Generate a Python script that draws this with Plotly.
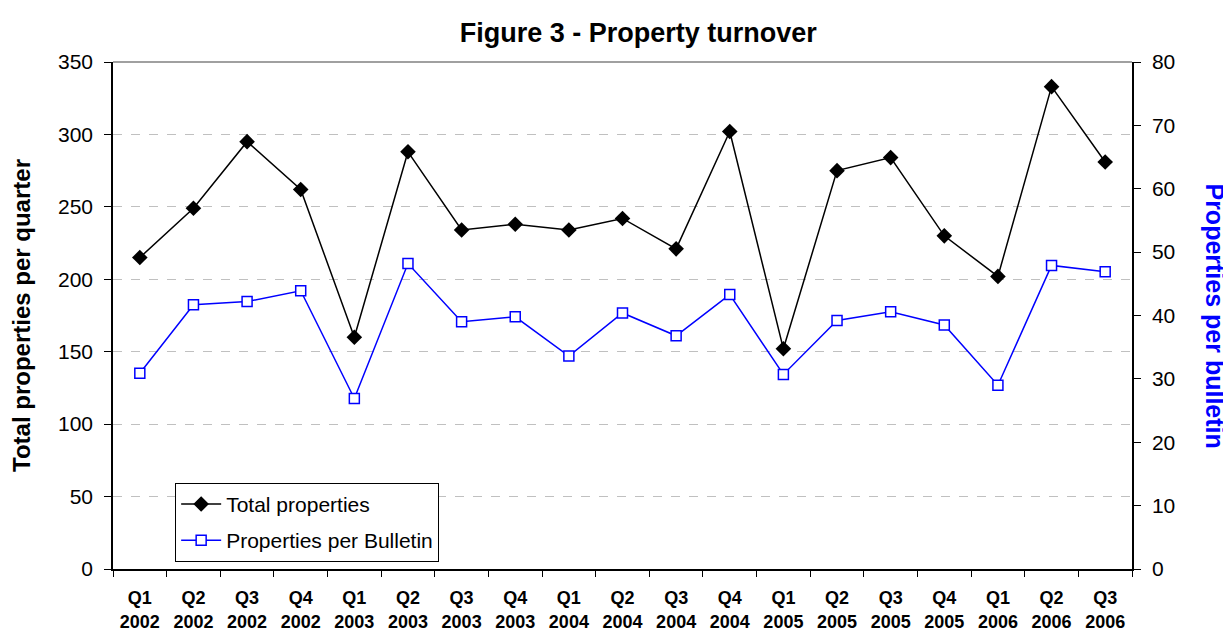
import plotly.graph_objects as go

quarters = ["Q1<br>2002", "Q2<br>2002", "Q3<br>2002", "Q4<br>2002",
            "Q1<br>2003", "Q2<br>2003", "Q3<br>2003", "Q4<br>2003",
            "Q1<br>2004", "Q2<br>2004", "Q3<br>2004", "Q4<br>2004",
            "Q1<br>2005", "Q2<br>2005", "Q3<br>2005", "Q4<br>2005",
            "Q1<br>2006", "Q2<br>2006", "Q3<br>2006"]
total_properties = [215, 249, 295, 262, 160, 288, 234, 238, 234, 242, 221, 302,
                    152, 275, 284, 230, 202, 333, 281]
per_bulletin = [30.9, 41.7, 42.2, 43.9, 26.9, 48.2, 39.0, 39.8, 33.6, 40.4, 36.8,
                43.3, 30.7, 39.2, 40.6, 38.5, 29.0, 47.9, 46.9]

FONT = "Arial"

fig = go.Figure()
fig.add_trace(go.Scatter(
    x=quarters, y=total_properties, name="Total properties",
    mode="lines+markers", legendgroup="a",
    line=dict(color="black", width=1.5),
    marker=dict(symbol="diamond", size=12, color="black"),
))
fig.add_trace(go.Scatter(
    x=quarters, y=per_bulletin, name="Properties per Bulletin",
    mode="lines+markers", yaxis="y2", legendgroup="b",
    line=dict(color="#0000FF", width=1.5),
    marker=dict(symbol="square", size=10, color="white",
                line=dict(color="#0000FF", width=1.5)),
))

fig.update_layout(
    width=1231, height=633,
    paper_bgcolor="white", plot_bgcolor="white",
    margin=dict(l=105, r=107, t=54, b=72, autoexpand=False),
    font=dict(family=FONT, color="black", size=21),
    title=dict(text="<b>Figure 3 - Property turnover</b>", x=0.512, xanchor="center",
               y=0.962, yanchor="middle", font=dict(size=27, family=FONT)),
    showlegend=True,
    legend=dict(x=0.061, y=0.17, xanchor="left", yanchor="top",
                bgcolor="white", bordercolor="black", borderwidth=1,
                font=dict(size=21, family=FONT), tracegroupgap=6,
                itemwidth=40),
    xaxis=dict(type="category", range=[-0.5, 18.5], automargin=False,
               showline=True, linecolor="black", linewidth=1.5,
               ticks="outside", tickson="boundaries", ticklen=6, tickcolor="black",
               showgrid=False, mirror=False, ticklabelstandoff=12,
               tickfont=dict(size=18, family=FONT, weight="bold")),
    yaxis=dict(range=[0, 350], dtick=50, showline=True, linecolor="black", linewidth=1.5,
               automargin=False,
               ticks="outside", ticklen=7, tickcolor="black", ticklabelstandoff=7,
               showgrid=True, gridcolor="#C0C0C0", griddash="dash", gridwidth=1,
               zeroline=False,
               title=dict(text="<b>Total properties per quarter</b>",
                          font=dict(size=24, family=FONT), standoff=24)),
    yaxis2=dict(range=[0, 80], dtick=10, overlaying="y", side="right",
                automargin=False,
                showline=True, linecolor="black", linewidth=1.5,
                ticks="outside", ticklen=7, tickcolor="black", ticklabelstandoff=7,
                showgrid=False, zeroline=False),
    shapes=[dict(type="line", xref="paper", yref="paper", x0=0, x1=1, y0=1, y1=1,
                 line=dict(color="#808080", width=1.5))],
    annotations=[dict(text="<b>Properties per bulletin</b>", xref="paper", yref="paper",
                      x=1.0815, y=0.5, textangle=90, showarrow=False,
                      font=dict(size=25, color="#0000FF", family=FONT),
                      xanchor="center", yanchor="middle")],
)

fig.write_html("out.html")
